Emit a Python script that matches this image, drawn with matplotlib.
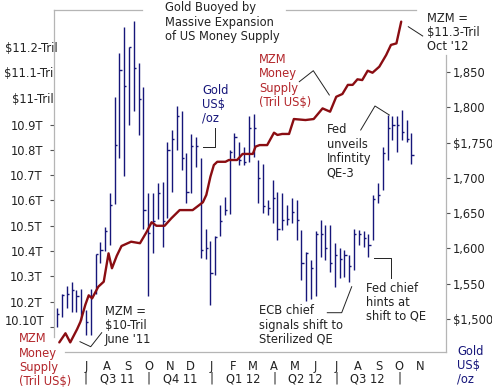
import matplotlib
matplotlib.use("Agg")
import matplotlib.pyplot as plt
import matplotlib.dates as mdates
import matplotlib.transforms as mtransforms
from matplotlib.lines import Line2D
import pandas as pd

plt.rcParams['font.family'] = ['DejaVu Sans']

# ---------------- data ----------------
gold_start = "2011-05-20"   # first weekly bar (Friday)
gold_high = [1515, 1536, 1547, 1552, 1541, 1542, 1513, 1543, 1592, 1609,
             1630, 1679, 1814, 1877, 1914, 1886, 1922, 1862, 1828, 1678,
             1679, 1692, 1694, 1751, 1768, 1802, 1794, 1735, 1762, 1758,
             1728, 1628, 1611, 1617, 1661, 1673, 1739, 1763, 1751, 1744,
             1787, 1791, 1725, 1720, 1669, 1697, 1680, 1678, 1661, 1671,
             1669, 1626, 1595, 1584, 1624, 1640, 1633, 1633, 1607, 1600,
             1598, 1591, 1628, 1626, 1624, 1621, 1676, 1692, 1744, 1789,
             1788, 1787, 1796, 1782, 1763]
gold_low = [1489, 1503, 1515, 1510, 1510, 1499, 1477, 1477, 1536, 1579,
            1597, 1605, 1663, 1728, 1702, 1775, 1794, 1761, 1628, 1533,
            1594, 1641, 1602, 1643, 1680, 1739, 1711, 1665, 1679, 1716,
            1586, 1585, 1520, 1562, 1617, 1647, 1649, 1728, 1718, 1718,
            1723, 1730, 1664, 1650, 1647, 1636, 1612, 1626, 1633, 1636,
            1612, 1555, 1525, 1529, 1532, 1588, 1584, 1567, 1546, 1558,
            1560, 1553, 1569, 1605, 1602, 1588, 1612, 1664, 1683, 1725,
            1754, 1737, 1754, 1751, 1720]
gold_close = [1507, 1534, 1536, 1541, 1532, 1510, 1496, 1532, 1592, 1598,
              1624, 1662, 1746, 1853, 1830, 1885, 1855, 1811, 1655, 1622,
              1639, 1678, 1639, 1739, 1755, 1788, 1728, 1680, 1745, 1745,
              1598, 1600, 1565, 1616, 1639, 1655, 1737, 1758, 1725, 1723,
              1770, 1770, 1700, 1660, 1657, 1671, 1628, 1640, 1642, 1652,
              1640, 1579, 1593, 1572, 1620, 1620, 1600, 1580, 1590, 1585,
              1590, 1575, 1620, 1620, 1615, 1605, 1670, 1675, 1735, 1770,
              1775, 1775, 1765, 1755, 1732]

mzm_dates = ["2011-05-23", "2011-06-01", "2011-06-08", "2011-06-18", "2011-06-23",
             "2011-06-30", "2011-07-05", "2011-07-10", "2011-07-19", "2011-07-27",
             "2011-08-03", "2011-08-08", "2011-08-15", "2011-08-22", "2011-09-05",
             "2011-09-18", "2011-09-28", "2011-10-05", "2011-10-12", "2011-10-24",
             "2011-11-03", "2011-11-15", "2011-12-04", "2011-12-19", "2011-12-24",
             "2011-12-30", "2012-01-04", "2012-01-09", "2012-01-21", "2012-01-26",
             "2012-02-07", "2012-02-15", "2012-03-01", "2012-03-05", "2012-03-11",
             "2012-03-22", "2012-04-01", "2012-04-06", "2012-04-13", "2012-04-23",
             "2012-04-30", "2012-05-17", "2012-05-29", "2012-06-11", "2012-06-22",
             "2012-07-01", "2012-07-10", "2012-07-18", "2012-07-25", "2012-08-01",
             "2012-08-08", "2012-08-16", "2012-08-23", "2012-09-02", "2012-09-12",
             "2012-09-19", "2012-09-27", "2012-10-04"]
mzm_vals = [10.039, 10.075, 10.039, 10.091, 10.121,
            10.187, 10.225, 10.213, 10.259, 10.279,
            10.391, 10.332, 10.381, 10.420, 10.437,
            10.431, 10.477, 10.514, 10.500, 10.500,
            10.530, 10.562, 10.562, 10.593, 10.622,
            10.694, 10.740, 10.753, 10.753, 10.760,
            10.760, 10.784, 10.784, 10.813, 10.819,
            10.819, 10.868, 10.859, 10.863, 10.863,
            10.922, 10.918, 10.922, 10.964, 10.951,
            11.010, 11.021, 11.057, 11.057, 11.079,
            11.076, 11.113, 11.105, 11.129, 11.175,
            11.215, 11.221, 11.307]

gold_ticks = [1500, 1550, 1600, 1650, 1700, 1750, 1800, 1850]
gold_tick_labels = ["$1,500", "1,550", "1,600", "1,650", "1,700", "$1,750", "1,800", "1,850"]
mzm_ticks = [10.1, 10.2, 10.3, 10.4, 10.5, 10.6, 10.7, 10.8, 10.9]
mzm_tick_labels = ["", "10.2T", "10.3T", "10.4T", "10.5T", "10.6T", "10.7T", "10.8T", "10.9T"]
mzm_extra_vals = [10.121, 11.0, 11.1, 11.2]
mzm_extra_labels = ["10.10T", "$11-Tril", "$11.1-Tri", "$11.2-Tril"]

month_dates = ["2011-07-01", "2011-08-01", "2011-09-01", "2011-10-01", "2011-11-01",
               "2011-12-01", "2012-01-01", "2012-02-01", "2012-03-01", "2012-04-01",
               "2012-05-01", "2012-06-01", "2012-07-01", "2012-08-01", "2012-09-01",
               "2012-10-01", "2012-11-01"]
month_labels = ["J", "A", "S", "O", "N", "D", "J", "F", "M", "A", "M", "J", "J", "A", "S", "O", "N"]
quarter_bounds = ["2011-07-01", "2011-10-01", "2012-01-01", "2012-04-01", "2012-07-01", "2012-10-01"]
quarter_labels = ["Q3 11", "Q4 11", "Q1 12", "Q2 12", "Q3 12"]

# ---------------- style ----------------
GOLD_C = "#16167a"
MZM_C = "#8a0d12"
RED_TXT = "#b3262b"
TXT = "#222222"
FRAME = "#b5b5b5"
FS = 8.3

W, H = 492, 388
fig = plt.figure(figsize=(W / 100, H / 100), dpi=100)
fig.patch.set_facecolor("white")

def fx(x):
    return x / W

def fy(y):
    return 1 - y / H

ax_m = fig.add_axes([fx(54), fy(352), (446 - 54) / W, (352 - 10) / H])
ax_g = ax_m.twinx()
ax_m.set_zorder(ax_g.get_zorder() + 1)
ax_m.patch.set_visible(False)
for a in (ax_m, ax_g):
    for s in a.spines.values():
        s.set_visible(False)

# gold HLC bars
gx = mdates.date2num(pd.date_range(gold_start, periods=len(gold_high), freq="7D"))
ax_g.vlines(gx, gold_low, gold_high, color=GOLD_C, lw=1.0)
ax_g.hlines(gold_close, gx, gx + 3.2, color=GOLD_C, lw=1.0)

# MZM line
mx = mdates.date2num(pd.to_datetime(mzm_dates))
ax_m.plot(mx, mzm_vals, color=MZM_C, lw=1.7, solid_joinstyle="round", solid_capstyle="round")

ax_m.set_xlim(mdates.date2num(pd.Timestamp("2011-05-15 06:00")),
              mdates.date2num(pd.Timestamp("2012-12-08 12:00")))
ax_g.set_ylim(1453.3, 1937.7)
ax_m.set_ylim(10.001, 11.353)

# right axis (gold)
ax_g.set_yticks(gold_ticks)
ax_g.set_yticklabels(gold_tick_labels)
ax_g.tick_params(axis="y", direction="out", length=3, width=0.8, pad=2,
                 labelsize=FS, color="#555555", labelcolor=TXT)

# left axis (MZM)
ax_m.set_yticks(mzm_ticks)
ax_m.set_yticklabels(mzm_tick_labels)
ax_m.tick_params(axis="y", direction="out", length=3, width=0.8, pad=5,
                 labelsize=FS, color="#555555", labelcolor=TXT)
lab_tr = mtransforms.blended_transform_factory(fig.transFigure, ax_m.transData)
extra_right = [45, 53.5, 53.5, 57.5]
for v, s, xr in zip(mzm_extra_vals, mzm_extra_labels, extra_right):
    ax_m.text(fx(xr), v, s, transform=lab_tr, ha="right", va="center",
              fontsize=FS, color=TXT, clip_on=False)

# x axis months
ax_m.set_xticks(mdates.date2num(pd.to_datetime(month_dates)))
ax_m.set_xticklabels(month_labels)
ax_m.tick_params(axis="x", length=0, pad=6, labelsize=FS, labelcolor=TXT)

q_tr = mtransforms.blended_transform_factory(ax_m.transData, fig.transFigure)
qb = mdates.date2num(pd.to_datetime(quarter_bounds))
for b in qb:
    ax_m.text(b, fy(378.5), "|", transform=q_tr, ha="center", va="center",
              fontsize=FS, color=TXT, clip_on=False)
for i, s in enumerate(quarter_labels):
    ax_m.text((qb[i] + qb[i + 1]) / 2, fy(378.5), s, transform=q_tr, ha="center",
              va="center", fontsize=FS, color=TXT, clip_on=False)

# frame
def fline(xs, ys, color=FRAME, lw=0.9):
    fig.add_artist(Line2D([fx(v) for v in xs], [fy(v) for v in ys], color=color, lw=lw))

fline([54, 142], [10, 10])
fline([286, 416], [10, 10])
fline([54, 54], [10, 337])
fline([446, 446], [55, 352])
fline([65, 446], [352, 352])

# annotation texts
def ftext(x, yc, s, color=TXT):
    fig.text(fx(x), fy(yc), s, ha="left", va="center", fontsize=FS, color=color,
             linespacing=1.12)

ftext(165, 22.2, "Gold Buoyed by\nMassive Expansion\nof US Money Supply")
ftext(427, 32.5, "MZM =\n$11.3-Tril\nOct '12")
ftext(259, 81, "MZM\nMoney\nSupply\n(Tril US$)", RED_TXT)
ftext(326.5, 151.2, "Fed\nunveils\nInfintity\nQE-3")
ftext(202, 104.2, "Gold\nUS$\n/oz", GOLD_C)
ftext(105, 325.8, "MZM =\n$10-Tril\nJune '11")
ftext(19, 360.3, "MZM\nMoney\nSupply\n(Tril US$)", RED_TXT)
ftext(259, 325, "ECB chief\nsignals shift to\nSterilized QE")
ftext(366, 302.2, "Fed chief\nhints at\nshift to QE")
ftext(457, 365.3, "Gold\nUS$\n/oz", GOLD_C)

# pointer lines
PC = "#222222"
fline([408.3, 422.7], [26.7, 36], PC, 0.7)
fline([299.3, 313.3, 329.3], [81.7, 70.7, 95], PC, 0.7)
fline([360.7, 375, 389.3], [130, 106, 115], PC, 0.7)
fline([215, 215, 203.3], [128.3, 146.7, 146.7], PC, 0.7)
fline([80, 90.7, 101.7], [341.7, 346.7, 332.7], PC, 0.7)
fline([327.3, 341.7, 351.7], [312.7, 312.7, 286.7], PC, 0.7)
fline([374, 390.7, 390.7], [257.7, 257.7, 278.3], PC, 0.7)

fig.savefig("out.png", dpi=100, facecolor="white")
